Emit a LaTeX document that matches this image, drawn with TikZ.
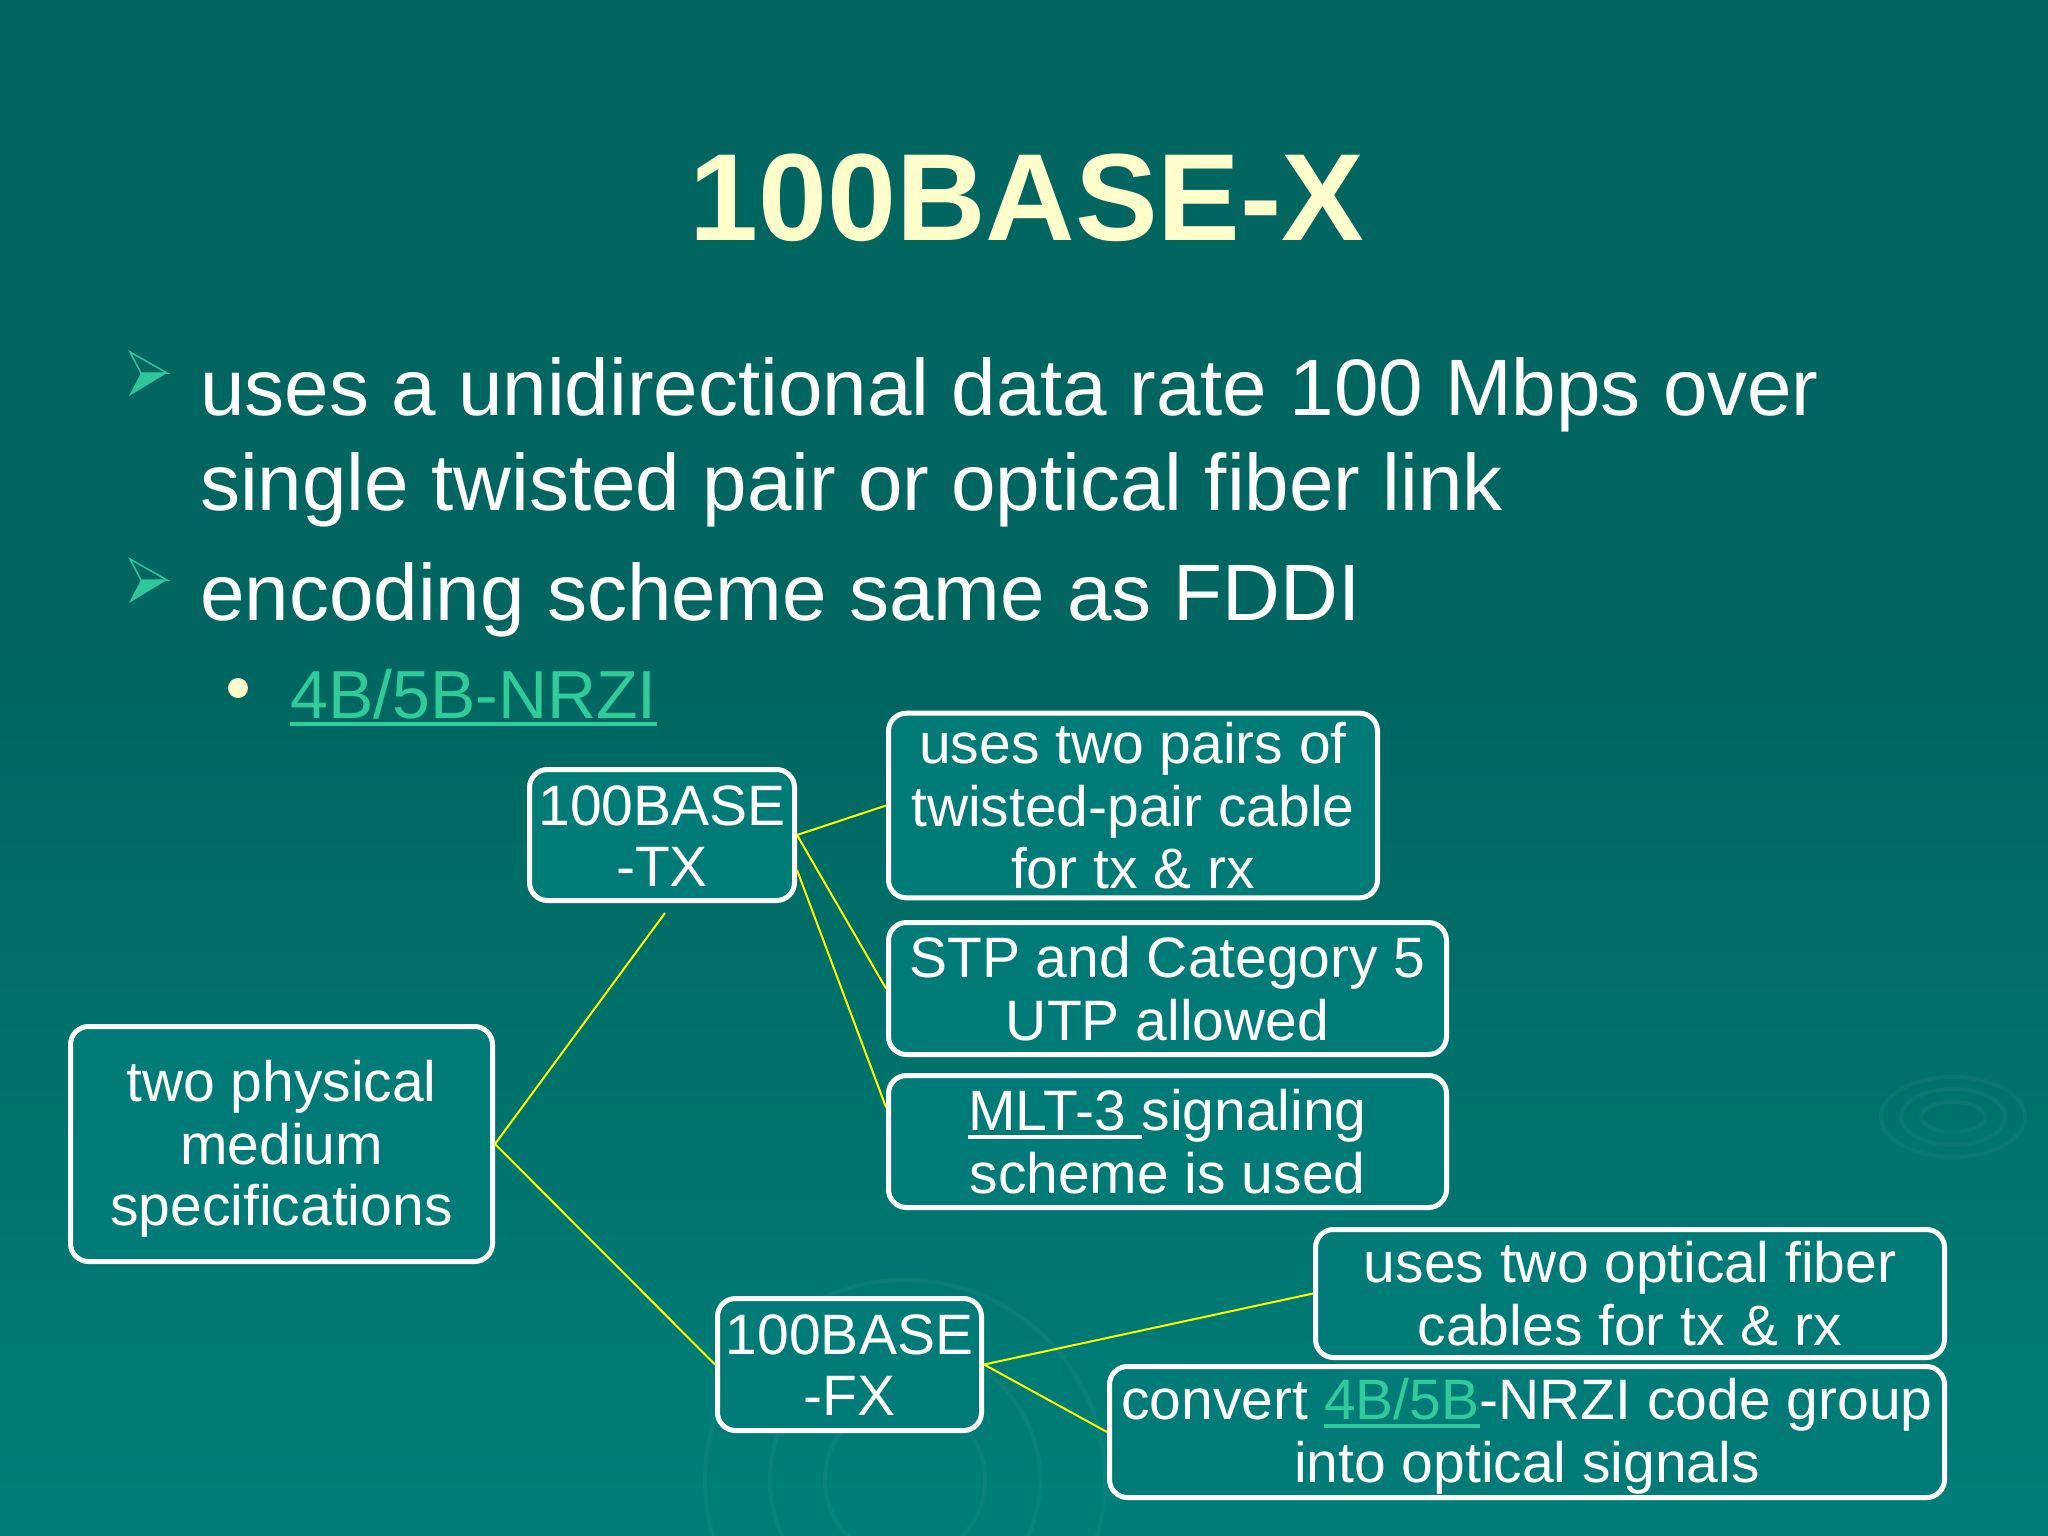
\documentclass[tikz,border=0pt]{standalone}
\usepackage{fontspec}
\setmainfont{Liberation Sans}
\usetikzlibrary{calc}
\definecolor{bgtop}{HTML}{00665F}
\definecolor{bgbot}{HTML}{007F7A}
\definecolor{boxfill}{HTML}{007B77}
\definecolor{cream}{HTML}{FFFFCC}
\definecolor{linkc}{HTML}{2FCB9A}
\definecolor{arrowc}{HTML}{2EC79B}
\definecolor{conn}{HTML}{FFFF00}
\newsavebox\ulbox
\newcommand\myul[1]{\sbox\ulbox{#1}\rlap{\rule[-8pt]{\wd\ulbox}{4pt}}\usebox\ulbox}
\newcommand\bst{\rule[-9pt]{0pt}{59pt}}
\tikzset{
  bx/.style={draw=white, line width=5pt, fill=boxfill, rounded corners=18pt,
    inner sep=0pt, align=center, text=white, font=\fontsize{57}{61}\selectfont},
  body/.style={anchor=base west, inner sep=0pt, text=white, font=\fontsize{80}{94}\selectfont},
  subbody/.style={anchor=base west, inner sep=0pt, text=linkc, font=\fontsize{68}{80}\selectfont},
  conline/.style={draw=conn, line width=2pt},
  ripple/.style={draw=white, opacity=0.035, line width=4pt}
}
\begin{document}
\begin{tikzpicture}[x=1pt, y=-1pt]
\useasboundingbox (0,0) rectangle (2048,1536);
% background
\fill[bgtop] (0,0) rectangle (2048,1536);
\shade[top color=bgtop, bottom color=bgbot] (0,650) rectangle (2048,1536);
% faint ripples
\draw[ripple] (1953,1117) ellipse [x radius=32pt, y radius=15pt];
\draw[ripple] (1953,1117) ellipse [x radius=52pt, y radius=28pt];
\draw[ripple] (1953,1117) ellipse [x radius=72pt, y radius=40pt];
\draw[ripple] (905,1480) circle (80pt);
\draw[ripple] (905,1480) circle (135pt);
\draw[ripple] (905,1480) circle (200pt);

% title
\node[anchor=base, inner sep=0pt, text=cream, font=\fontsize{124}{130}\selectfont\bfseries] (title) at (1027,240) {100BASE-X};

% bullets
\draw[arrowc, line width=1.5pt, line join=miter] (130,352) -- (167,373) -- (141,373) -- cycle;
\fill[arrowc] (141,373) -- (167,373) -- (129,396) -- cycle;
\draw[arrowc, line width=1.5pt, line join=miter] (130,559) -- (167,580) -- (141,580) -- cycle;
\fill[arrowc] (141,580) -- (167,580) -- (129,603) -- cycle;
\fill[cream] (238,688) circle (10pt);

\node[body] (l1) at (200,415) {uses a unidirectional data rate 100 Mbps over};
\node[body] (l2) at (200,510) {single twisted pair or optical fiber link};
\node[body] (l3) at (200,620) {encoding scheme same as FDDI};
\node[subbody] (l4) at (290,718) {\myul{4B/5B-NRZI}};

% boxes
\node[bx, minimum width=265pt, minimum height=131pt] (tx) at (662,835) {\bst 100BASE\\\bst -TX};
\node[bx, minimum width=489pt, minimum height=174pt] (pairs) at (1133,805.5) {\bst uses two pairs of\\\bst twisted-pair cable\\\bst for tx \& rx};
\node[bx, minimum width=558pt, minimum height=132pt] (stp) at (1167.5,988.5) {\bst STP and Category 5\\\bst UTP allowed};
\node[bx, minimum width=558pt, minimum height=132pt] (mlt) at (1167.5,1141.5) {\bst\myul{MLT-3 }signaling\\\bst scheme is used};
\node[bx, minimum width=422pt, minimum height=235pt] (phys) at (281.5,1144) {\bst two physical\\\bst medium\\\bst specifications};
\node[bx, minimum width=264pt, minimum height=132pt] (fx) at (849.5,1364.5) {\bst 100BASE\\\bst -FX};
\node[bx, minimum width=629pt, minimum height=128pt] (fiber) at (1630,1293.5) {\bst uses two optical fiber\\\bst cables for tx \& rx};
\node[bx, minimum width=835pt, minimum height=131pt] (conv) at (1527,1432) {\bst convert {\color{linkc}\myul{4B/5B}}-NRZI code group\\\bst into optical signals};

% connectors
\coordinate (txfoot) at (665,913);
\draw[conline] (phys.east) -- (txfoot);
\draw[conline] (phys.east) -- (fx.west);
\draw[conline] (tx.east) -- (pairs.west);
\draw[conline] (tx.east) -- (stp.west);
\draw[conline] ([yshift=-35pt]tx.east) -- ($(mlt.north west)!0.25!(mlt.south west)$);
\draw[conline] (fx.east) -- (fiber.west);
\draw[conline] (fx.east) -- (conv.west);
\end{tikzpicture}
\end{document}
